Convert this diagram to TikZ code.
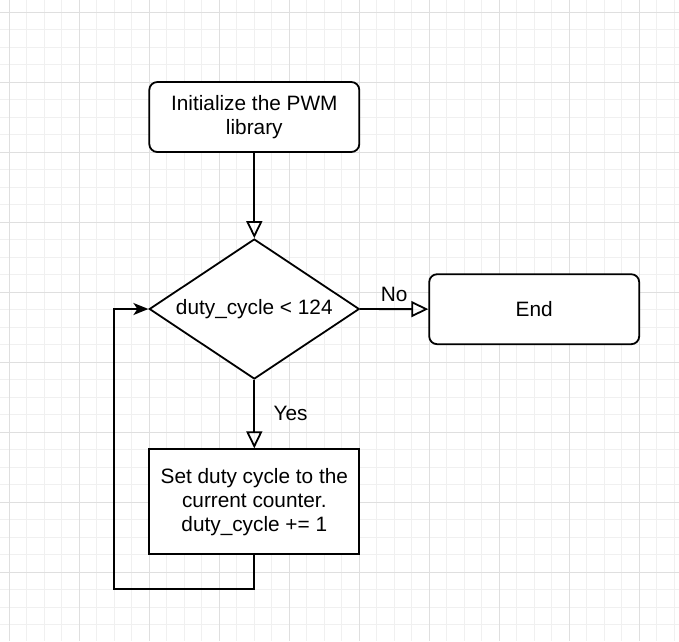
\documentclass[tikz,border=0pt]{standalone}
\usepackage{fontspec}
\setmainfont{Liberation Sans}
\usetikzlibrary{shapes.geometric,arrows.meta}
\definecolor{minorgrid}{HTML}{F0F0F0}
\definecolor{majorgrid}{HTML}{DFDFDF}

\begin{document}
\begin{tikzpicture}[x=1pt, y=-1pt,
    box/.style={draw, line width=1.8pt, fill=white, minimum width=210pt, inner sep=0pt,
        align=center, font=\fontsize{20.8}{24}\selectfont},
    decision/.style={box, diamond, minimum height=140pt, aspect=1.5},
    flow/.style={line width=1.8pt, -{Triangle[open, length=17pt, width=16pt]}},
    back/.style={line width=1.8pt, -{Stealth[length=15pt, width=12pt, inset=4pt]}},
    lbl/.style={font=\fontsize{20.8}{24}\selectfont}]
    \useasboundingbox[fill=white] (0,0) rectangle (679,641);

    % background grid
    \foreach \i in {0,...,38}
        \draw[minorgrid, line width=1pt] (9.3+\i*17.5,0) -- (9.3+\i*17.5,641);
    \foreach \i in {0,...,35}
        \draw[minorgrid, line width=1pt] (0,12.3+\i*17.5) -- (679,12.3+\i*17.5);
    \foreach \i in {0,...,9}
        \draw[majorgrid, line width=1pt] (9.3+\i*70,0) -- (9.3+\i*70,641);
    \foreach \i in {0,...,8}
        \draw[majorgrid, line width=1pt] (0,12.3+\i*70) -- (679,12.3+\i*70);

    \node[box, rounded corners=8pt, minimum height=70pt] (init) at (254.3,117) {Initialize the PWM\\library};
    \node[decision] (check) at (254.3,309) {duty\_cycle < 124};
    \node[box, rounded corners=8pt, minimum height=70pt] (fin) at (534.2,309.2) {End};
    \node[box, minimum height=105pt] (setdc) at (254.3,501.7) {Set duty cycle to the\\current counter.\\duty\_cycle += 1};
    \coordinate (loop) at (114.3,589.3);

    \draw[flow] (init) -- (check);
    \draw[flow] (check) -- (fin) node[lbl, midway, above, yshift=3pt]{No};
    \draw[flow] (check) -- (setdc) node[lbl, midway, right, xshift=15pt, yshift=1pt]{Yes};
    \draw[back] (setdc.south) |- (loop) |- (check.west);
\end{tikzpicture}
\end{document}
